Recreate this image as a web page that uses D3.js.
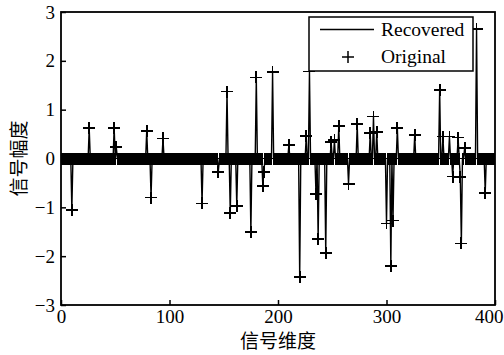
<!DOCTYPE html>
<html><head><meta charset="utf-8">
<script src="https://cdn.jsdelivr.net/npm/d3@7"></script>
<style>
html,body{margin:0;padding:0;background:#fff;}
svg{display:block;}
</style>
</head><body>
<script>
// ---- data ----
const signalLength = 400;
const spikeIndex = [10,26,49,51,79,83,94,130,145,153,156,162,175,180,186,187,195,210,220,226,229,235,237,244,249,252,256,265,273,285,288,291,300,304,306,310,326,349,352,358,361,366,368,369,372,383,391];
const originalValues = [-1.05,0.63,0.63,0.23,0.57,-0.80,0.41,-0.92,-0.28,1.37,-1.12,-0.97,-1.51,1.66,-0.56,-0.28,1.77,0.28,-2.43,0.46,1.78,-0.73,-1.65,-1.93,0.34,0.38,0.66,-0.52,0.70,0.53,0.86,0.55,-1.33,-2.20,-1.27,0.63,0.48,1.41,0.45,0.45,-0.37,0.43,-0.38,-1.74,0.22,2.65,-0.70];
const recoveredValues = [-1.04,0.62,0.63,0.22,0.56,-0.79,0.40,-0.91,-0.27,1.36,-1.11,-0.96,-1.50,1.65,-0.55,-0.27,1.76,0.27,-2.42,0.45,1.77,-0.72,-1.64,-1.92,0.33,0.37,0.65,-0.51,0.69,0.52,0.85,0.54,-1.32,-2.19,-1.26,0.62,0.47,1.40,0.44,0.44,-0.36,0.42,-0.37,-1.73,0.21,2.64,-0.69];
const xTicks = [0,100,200,300,400];
const yTicks = [-3,-2,-1,0,1,2,3];
const legendLabels = ["Recovered","Original"];
const xLabel = "信号维度";
const yLabel = "信号幅度";

// build full-length signals from the sparse lists
const indices = d3.range(1, signalLength + 1);
const origMap = new Map(spikeIndex.map((k,i)=>[k, originalValues[i]]));
const recMap = new Map(spikeIndex.map((k,i)=>[k, recoveredValues[i]]));
const original = indices.map(i => ({i, v: origMap.has(i) ? origMap.get(i) : 0}));
const recovered = indices.map(i => ({i, v: recMap.has(i) ? recMap.get(i) : 0}));

// ---- chart ----
const W = 504, H = 355;
const L = 61, R = 495, T = 12, B = 305;
const svg = d3.select("body").append("svg").attr("width", W).attr("height", H);
const x = d3.scaleLinear().domain([0,400]).range([L,R]);
const y = d3.scaleLinear().domain([-3,3]).range([B,T]);
const serif = "'Liberation Serif','Times New Roman',serif";

svg.append("defs").append("clipPath").attr("id","clip")
  .append("rect").attr("x",L).attr("y",T).attr("width",R-L).attr("height",B-T);

const plot = svg.append("g").attr("clip-path","url(#clip)");

// original markers "+"
const ms = 6;
plot.append("g").attr("shape-rendering","crispEdges").selectAll("path").data(original).join("path")
  .attr("d", d => {
    const cx = x(d.i), cy = y(d.v);
    return `M${cx-ms},${cy}H${cx+ms}M${cx},${cy-ms}V${cy+ms}`;
  })
  .attr("stroke","#000").attr("stroke-width",1.8).attr("fill","none");

// recovered line
plot.append("path").datum(recovered)
  .attr("d", d3.line().x(d=>x(d.i)).y(d=>y(d.v)))
  .attr("fill","none").attr("stroke","#000").attr("stroke-width",1.4);

// axes
const xAxis = d3.axisBottom(x).tickValues(xTicks).tickSizeInner(-5).tickSizeOuter(0).tickPadding(5)
  .tickFormat(d3.format("d"));
const yAxis = d3.axisLeft(y).tickValues(yTicks).tickSizeInner(-5).tickSizeOuter(0).tickPadding(6)
  .tickFormat(d => d < 0 ? "\u2212" + Math.abs(d) : String(d));
const gx = svg.append("g").attr("transform",`translate(0,${B})`).call(xAxis);
const gy = svg.append("g").attr("transform",`translate(${L},0)`).call(yAxis);
[gx,gy].forEach(g => {
  g.selectAll("path.domain").remove();
  g.selectAll("line").attr("stroke","#000").attr("stroke-width",1.5);
  g.selectAll("text").attr("font-family",serif).attr("font-size",19).attr("fill","#000");
});
// keep the last x label inside the picture
gx.selectAll(".tick").filter(d => d === 400).select("text")
  .attr("text-anchor","end").attr("x", 503 - R);
// frame
svg.append("rect").attr("x",L).attr("y",T).attr("width",R-L).attr("height",B-T)
  .attr("fill","none").attr("stroke","#000").attr("stroke-width",1.8);

// axis titles
svg.append("text").attr("x",(L+R)/2).attr("y",348).attr("text-anchor","middle")
  .attr("font-family","'Noto Sans CJK SC',sans-serif").attr("font-size",19).text(xLabel);
svg.append("text").attr("transform",`translate(26,${(T+B)/2}) rotate(-90)`).attr("text-anchor","middle")
  .attr("font-family","'Noto Sans CJK SC',sans-serif").attr("font-size",19).text(yLabel);

// legend
const lg = svg.append("g");
lg.append("rect").attr("x",309).attr("y",17).attr("width",164).attr("height",54)
  .attr("fill","#fff").attr("stroke","#000").attr("stroke-width",1.5);
lg.append("line").attr("x1",320).attr("x2",374).attr("y1",29.5).attr("y2",29.5)
  .attr("stroke","#000").attr("stroke-width",1.4);
lg.append("path").attr("d",`M${348-ms},57H${348+ms}M348,${57-ms}V${57+ms}`)
  .attr("stroke","#000").attr("stroke-width",1.5);
lg.selectAll("text.lab").data(legendLabels).join("text").attr("class","lab")
  .attr("x",381).attr("y",(d,i)=> i===0 ? 36 : 63)
  .attr("font-family",serif).attr("font-size",19.5).text(d=>d);
</script>
</body></html>
